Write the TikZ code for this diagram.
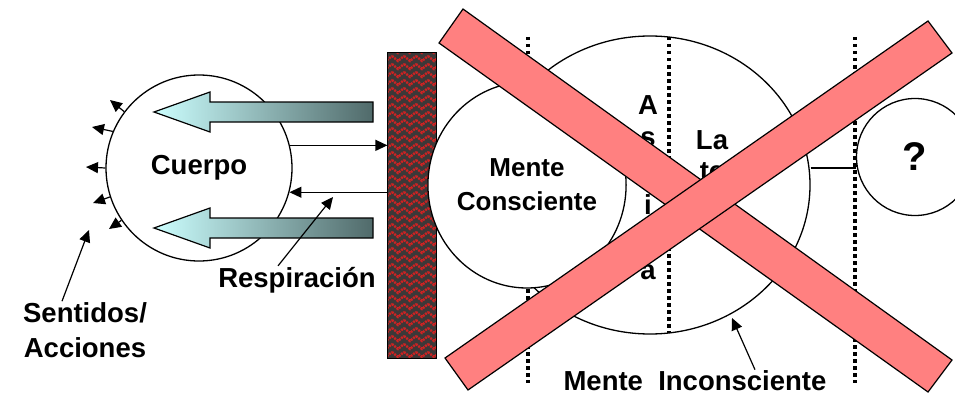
\documentclass[tikz,border=0pt]{standalone}
\usepackage{fontspec}
\setmainfont{Liberation Sans}
\usetikzlibrary{arrows.meta,shapes.geometric}

\definecolor{barred}{RGB}{255,128,128}
\definecolor{wallgray}{RGB}{60,56,56}
\definecolor{wallred}{RGB}{205,35,35}
\definecolor{arrowlight}{RGB}{204,255,255}
\definecolor{arrowdark}{RGB}{80,106,106}

\tikzset{%
  every node/.style={
    inner sep=1pt
  },
  lbl/.style={font=\bfseries\fontsize{27.5}{35}\selectfont, align=center},
  ring/.style={draw, line width=1.3pt, inner sep=0pt},
  tip/.style={line width=1.2pt, -{Triangle[length=12pt,width=11pt]}},
  vdots/.style={line width=3.2pt, dash pattern=on 3.5pt off 3.5pt},
  xbar/.style={fill=barred, draw, line width=1.2pt}
}

\begin{document}
\begin{tikzpicture}[x=1pt, y=-1pt]
        \useasboundingbox (0,0) rectangle (955,396);
        % body and the flows into it
        \node[ring, circle, minimum size=186pt, lbl] (cuerpo) at (199,168) {Cuerpo};
        \foreach \y in {112,228}
          \shadedraw[left color=arrowlight, right color=arrowdark, line width=1.2pt]
            (373,\y-10) -- (210,\y-10) -- (210,\y-20) -- (154,\y) -- (210,\y+20)
            -- (210,\y+10) -- (373,\y+10) -- cycle;
        \node[draw, line width=1.2pt, minimum width=48pt, minimum height=305pt,
              inner sep=0pt] (wall) at (412,205.5) {};
        \begin{scope}
          \clip (wall.north west) rectangle (wall.south east);
          \fill[wallgray] (wall.north west) rectangle (wall.south east);
          \foreach \r in {0,...,40}
            \foreach \c in {0,...,4}
              \draw[wallred, line width=2.4pt, dash pattern=on 2pt off 1pt]
                (380+12*\c,48+8*\r) -- ++(6,5) -- ++(6,-5);
        \end{scope}
        \draw[line width=1.2pt] (wall.north west) rectangle (wall.south east);
        \draw[tip] (cuerpo.14) -- (cuerpo.14 -| wall.west);
        \draw[tip] (wall.west |- cuerpo.-15) -- (cuerpo.-15);
        % senses
        \coordinate (s1) at (110,100);
        \coordinate (s2) at (92,127);
        \coordinate (s3) at (86,167);
        \coordinate (s4) at (93,203);
        \coordinate (s5) at (109,229);
        \draw[tip] (cuerpo.143) -- (s1);
        \draw[tip] (cuerpo.157) -- (s2);
        \draw[tip] (cuerpo.180) -- (s3);
        \draw[tip] (cuerpo.198) -- (s4);
        \draw[tip] (cuerpo.214) -- (s5);
        \node[lbl] (sent) at (85,330) {Sentidos/\\Acciones};
        \coordinate (senttip) at (89,230);
        \draw[tip] ([xshift=-23pt]sent.north) -- (senttip);
        \node[lbl] (resp) at (297,280) {Respiración};
        \coordinate (resptip) at (333,197);
        \draw[tip] ([xshift=-19pt]resp.north) -- (resptip);
        % mind
        \node[ring, ellipse, minimum width=320pt, minimum height=298pt] (incons) at (650,185) {};
        \draw[vdots] (528,37) -- (528,383);
        \draw[vdots] (669,37) -- (669,333);
        \draw[vdots] (855,37) -- (855,383);
        \node[ring, ellipse, fill=white, minimum width=188pt, minimum height=206pt, lbl,
              font=\bfseries\fontsize{26}{34}\selectfont]
          (consc) at (527,185) {Mente\\Consciente};
        \node[lbl] (a1) at (648,105) {A};
        \node[lbl] (a2) at (648,139) {s};
        \node[lbl] (a3) at (648,205) {i};
        \node[lbl] (a4) at (648,272) {a};
        \node[lbl] (la) at (712,140) {La};
        \node[lbl] (te) at (712,172) {te};
        \node[ring, circle, fill=white, minimum size=117pt, lbl,
              font=\bfseries\fontsize{40}{40}\selectfont] (quest) at (915,157) {?};
        \draw[line width=1.2pt] (incons.east |- 0,168) -- (quest.west |- 0,168);
        \node[lbl] (minc) at (695,381) {Mente\ \ Inconsciente};
        \coordinate (minctip) at (732,318);
        \draw[tip] ([xshift=60pt]minc.north) -- (minctip);
        % crossed out
        \filldraw[xbar] (463,9) -- (952,360) -- (928,392) -- (439,43) -- cycle;
        \filldraw[xbar] (445,358) -- (928,21) -- (952,53) -- (468,390) -- cycle;
      \end{tikzpicture}
\end{document}
